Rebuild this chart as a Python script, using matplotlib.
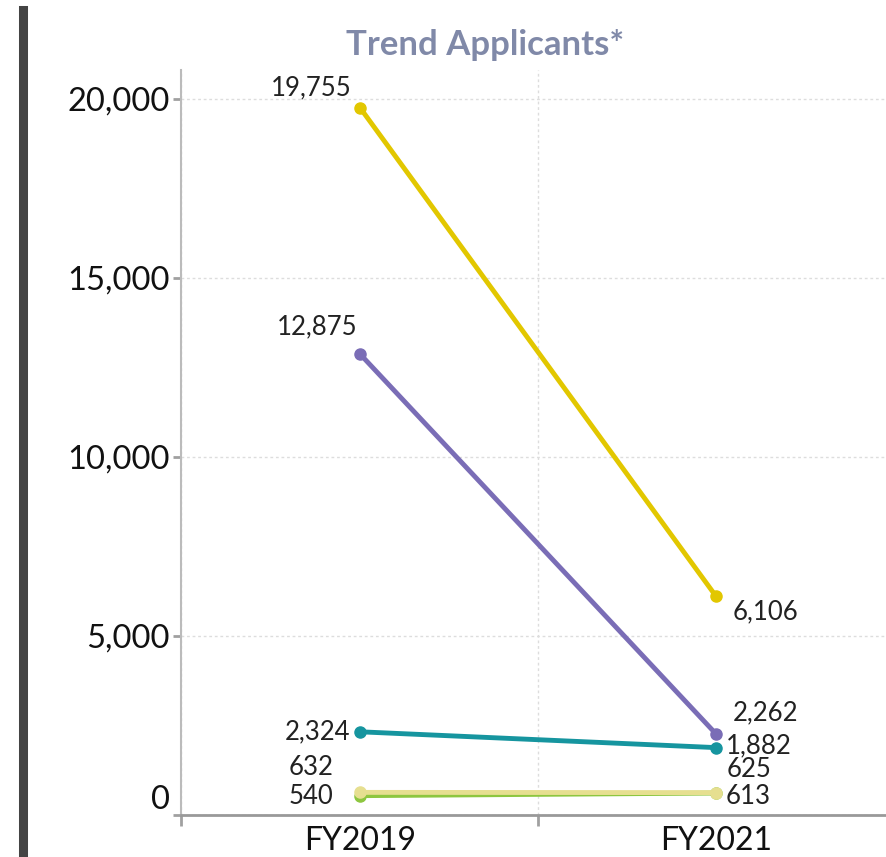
import matplotlib.pyplot as plt
from matplotlib.lines import Line2D
from matplotlib.ticker import FuncFormatter

years = ["FY2019", "FY2021"]
yellow = [19755, 6106]
purple = [12875, 2262]
teal = [2324, 1882]
green = [540, 613]
pale = [632, 625]

series = [
    (green, "#8dc63f"),
    (pale, "#e6df90"),
    (teal, "#16959f"),
    (purple, "#7a6db6"),
    (yellow, "#e2c700"),
]

plt.rcParams["font.family"] = ["Lato", "DejaVu Sans"]

W, H = 887, 857
fig = plt.figure(figsize=(W / 100, H / 100), dpi=100)
ax = fig.add_axes([181 / W, (H - 815) / H, 706 / W, 745 / H])

x = [0, 1]
for vals, col in series:
    ax.plot(x, vals, "-o", color=col, lw=3.5, ms=8, solid_capstyle="round")

def px(v):
    return v * 0.72

lab_kw = dict(fontsize=18.5, color="#222222", textcoords="offset points", va="center")
# FY2019 labels (dx, dy in pixels)
left = [(yellow[0], -8, 20), (purple[0], -3, 27), (teal[0], -10, 0), (pale[0], -27, 25), (green[0], -27, -1)]
for v, dx, dy in left:
    ax.annotate(f"{v:,}", (0, v), xytext=(px(dx), px(dy)), ha="right", **lab_kw)
# FY2021 labels
right = [(yellow[1], 17, -15), (purple[1], 17, 21), (teal[1], 10, 2), (pale[1], 11, 23), (green[1], 10, -3)]
for v, dx, dy in right:
    ax.annotate(f"{v:,}", (1, v), xytext=(px(dx), px(dy)), ha="left", **lab_kw)

ax.set_xlim(-0.503, 1.48)
ax.set_ylim(0, 20810)
ax.set_yticks([0, 5000, 10000, 15000, 20000])
ax.yaxis.set_major_formatter(FuncFormatter(lambda v, p: f"{int(v):,}"))
ax.set_xticks([-0.503, 0.5])
ax.set_xticklabels([])
ax.set_xticks([0, 1], minor=True)
ax.set_xticklabels(years, minor=True)
ax.tick_params(axis="x", which="minor", length=0, labelsize=23, pad=8, labelcolor="#111111")
ax.tick_params(axis="x", which="major", length=8, width=2, color="#a0a0a0")
ax.tick_params(axis="y", length=6, width=2, color="#a0a0a0", labelsize=23.5, pad=2, labelcolor="#111111")
ax.yaxis.get_major_ticks()[0].label1.set_verticalalignment("bottom")

ax.grid(axis="y", linestyle=(0, (2, 2)), color="#dddddd", lw=1)
ax.grid(axis="x", which="major", linestyle=(0, (2, 2)), color="#dddddd", lw=1)
ax.set_axisbelow(True)
for s in ["top", "right"]:
    ax.spines[s].set_visible(False)
ax.spines["left"].set_color("#bbbbbb")
ax.spines["left"].set_linewidth(1.5)
ax.spines["bottom"].set_color("#999999")
ax.spines["bottom"].set_linewidth(2)

fig.text(485 / W, 1 - 45 / H, "Trend Applicants*", ha="center", va="center",
         fontsize=25, fontweight="bold", color="#8089a8")

fig.add_artist(Line2D([23 / W, 23 / W], [0, 1 - 10 / H], color="#444444", lw=6.5,
                      transform=fig.transFigure))

fig.savefig("out.png", dpi=100)
